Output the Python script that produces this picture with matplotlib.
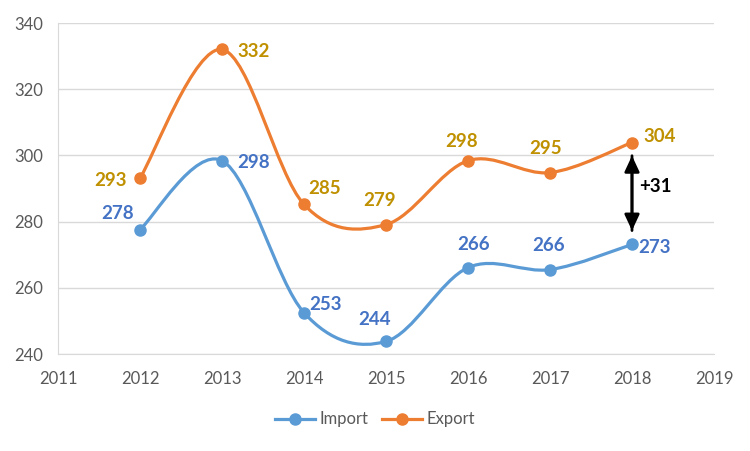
import numpy as np
import matplotlib.pyplot as plt
from matplotlib.path import Path
from matplotlib.patches import PathPatch
from matplotlib.lines import Line2D

plt.rcParams['font.family'] = ['Lato', 'DejaVu Sans']

years = [2012, 2013, 2014, 2015, 2016, 2017, 2018]
import_vals = [277.6, 298.4, 252.5, 243.8, 266.1, 265.5, 273.1]
export_vals = [293.1, 332.0, 285.2, 279.1, 298.4, 294.8, 303.9]
import_labels = ['278', '298', '253', '244', '266', '266', '273']
export_labels = ['293', '332', '285', '279', '298', '295', '304']
diff_label = '+31'

import_color = '#5B9BD5'
export_color = '#ED7D31'
import_text = '#4472C4'
export_text = '#BF9000'

# label centre offsets from the point, in pixels
import_off = [(-22, 16), (32, -2), (22, 8), (-11, 22), (6, 23), (-1, 24), (23, -3)]
export_off = [(-29, -2), (32, -2), (21, 16), (-6, 24), (-6, 19), (-4, 24), (28, 6)]


def smooth_path(xs, ys):
    # excel-like bezier smoothing
    pts = np.column_stack([xs, ys]).astype(float)
    n = len(pts)
    verts = [pts[0]]
    codes = [Path.MOVETO]
    for i in range(n - 1):
        p0 = pts[i - 1] if i > 0 else pts[i]
        p1 = pts[i]
        p2 = pts[i + 1]
        p3 = pts[i + 2] if i + 2 < n else pts[i + 1]
        c1 = p1 + (p2 - p0) / 6.0
        c2 = p2 - (p3 - p1) / 6.0
        verts += [c1, c2, p2]
        codes += [Path.CURVE4] * 3
    return Path(verts, codes)


fig = plt.figure(figsize=(7.5, 4.51), dpi=100)
ax = fig.add_axes([0.0773, 0.215, 0.8747, 0.734])

for vals, col in [(import_vals, import_color), (export_vals, export_color)]:
    ax.add_patch(PathPatch(smooth_path(years, vals), facecolor='none',
                           edgecolor=col, lw=2.3, zorder=3))
    ax.plot(years, vals, 'o', color=col, ms=8, zorder=4)

for x, v, t, (dx, dy) in zip(years, import_vals, import_labels, import_off):
    ax.annotate(t, (x, v), xytext=(dx, dy), textcoords='offset pixels', ha='center', va='center',
                color=import_text, fontsize=13.5, fontweight='bold', zorder=5)
for x, v, t, (dx, dy) in zip(years, export_vals, export_labels, export_off):
    ax.annotate(t, (x, v), xytext=(dx, dy), textcoords='offset pixels', ha='center', va='center',
                color=export_text, fontsize=13.5, fontweight='bold', zorder=5)

# difference arrow at last year
lo = import_vals[-1] + 4.2
hi = export_vals[-1] - 4.0
for a, b in [(hi, lo), (lo, hi)]:
    ax.annotate('', xy=(years[-1], b), xytext=(years[-1], a),
                arrowprops=dict(arrowstyle='-|>,head_length=0.6,head_width=0.28', color='black',
                                lw=2, mutation_scale=16, shrinkA=0, shrinkB=0))
ax.annotate(diff_label, (years[-1], (import_vals[-1] + export_vals[-1]) / 2 + 2),
            xytext=(7, 0), textcoords='offset pixels', ha='left', va='center',
            fontsize=13.5, fontweight='bold', color='black')

ax.set_xlim(2011, 2019)
ax.set_ylim(240, 340)
ax.set_xticks(range(2011, 2020))
ax.set_yticks(range(240, 341, 20))
ax.grid(axis='y', color='#D9D9D9', lw=1)
ax.set_axisbelow(True)
for s in ['top', 'right']:
    ax.spines[s].set_visible(False)
for s in ['left', 'bottom']:
    ax.spines[s].set_color('#D9D9D9')
ax.tick_params(length=0, labelsize=12, labelcolor='#595959')
ax.tick_params(axis='x', pad=12)
ax.tick_params(axis='y', pad=11)

handles = [Line2D([], [], color=import_color, lw=2.3, marker='o', ms=8),
           Line2D([], [], color=export_color, lw=2.3, marker='o', ms=8)]
fig.legend(handles, ['Import', 'Export'], loc='center', bbox_to_anchor=(0.5, 0.07),
           ncol=2, frameon=False, fontsize=12, labelcolor='#595959',
           handlelength=2.4, columnspacing=0.8, handletextpad=0.3)

fig.savefig('out.png', dpi=100)
